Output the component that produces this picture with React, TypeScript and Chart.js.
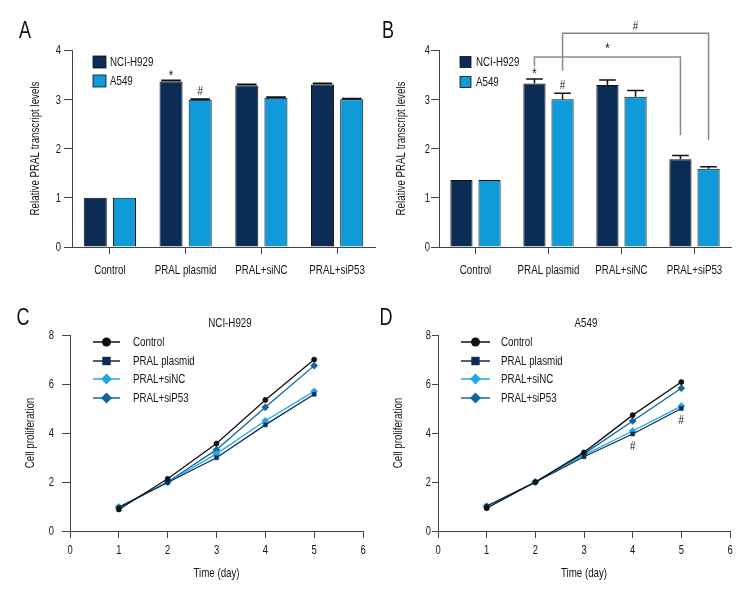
import React, { useEffect, useRef } from 'react';
import { Chart, registerables } from 'chart.js';
Chart.register(...registerables);

const FONT = '"Liberation Sans", Arial, sans-serif';
const SX = 0.75; // horizontal condensing of text

// ---------- data ----------
const categories = ['Control', 'PRAL plasmid', 'PRAL+siNC', 'PRAL+siP53'];
const barSeriesNames = ['NCI-H929', 'A549'];
const barTicks = [0, 1, 2, 3, 4];

const aNci = [1.0, 3.36, 3.28, 3.30];
const aNciErr = [0, 0.02, 0.02, 0.02];
const aA549 = [1.0, 2.99, 3.03, 3.0];
const aA549Err = [0, 0.01, 0.01, 0.01];

const bNci = [1.36, 3.32, 3.29, 1.78];
const bNciErr = [0, 0.09, 0.1, 0.08];
const bA549 = [1.36, 3.0, 3.05, 1.59];
const bA549Err = [0, 0.12, 0.13, 0.04];

// significance brackets in panel B (values in axis units)
const bBracketStar = { text: '*', fromIdx: 1, toIdx: 3, ds: 0, startVal: 3.66, topVal: 3.86, endVal: 2.27, labelVal: 4.03 };
const bBracketHash = { text: '#', fromIdx: 1, toIdx: 3, ds: 1, startVal: 3.58, topVal: 4.34, endVal: 2.17, labelVal: 4.47 };

const days = [1, 2, 3, 4, 5];
const dayTicks = [0, 1, 2, 3, 4, 5, 6];
const prolifTicks = [0, 2, 4, 6, 8];
const lineSeriesNames = ['Control', 'PRAL plasmid', 'PRAL+siNC', 'PRAL+siP53'];
const cControl = [0.88, 2.13, 3.57, 5.35, 7.0];
const cPlasmid = [0.97, 1.98, 2.99, 4.33, 5.58];
const cSiNC = [0.98, 2.0, 3.15, 4.5, 5.7];
const cSiP53 = [0.95, 2.0, 3.32, 5.05, 6.75];

const dControl = [0.93, 2.0, 3.21, 4.73, 6.08];
const dPlasmid = [1.02, 1.99, 3.03, 3.96, 5.0];
const dSiNC = [1.0, 2.0, 3.1, 4.08, 5.1];
const dSiP53 = [1.0, 2.0, 3.15, 4.49, 5.83];
const dHashDays = [4, 5];

const COLORS = {
  navy: '#0b2c55',
  light: '#0f9bda',
  siNC: '#22a7e4',
  siP53: '#14659b',
  black: '#111111',
  text: '#151515',
  axis: '#444444',
};

type Marker = 'circle' | 'rect' | 'rectRot';

function drawMarker(ctx: CanvasRenderingContext2D, style: Marker, x: number, y: number, r: number, color: string) {
  ctx.fillStyle = color;
  ctx.beginPath();
  if (style === 'circle') ctx.arc(x, y, r, 0, Math.PI * 2);
  else if (style === 'rect') ctx.rect(x - r, y - r, 2 * r, 2 * r);
  else {
    ctx.moveTo(x, y - r);
    ctx.lineTo(x + r, y);
    ctx.lineTo(x, y + r);
    ctx.lineTo(x - r, y);
    ctx.closePath();
  }
  ctx.fill();
}

function text(
  ctx: CanvasRenderingContext2D,
  s: string,
  x: number,
  y: number,
  size: number,
  align: CanvasTextAlign = 'left',
  color = COLORS.text,
  rot = 0,
) {
  ctx.save();
  ctx.translate(x, y);
  if (rot) ctx.rotate(rot);
  ctx.scale(SX, 1);
  ctx.font = `${size}px ${FONT}`;
  ctx.fillStyle = color;
  ctx.textAlign = align;
  ctx.textBaseline = 'middle';
  ctx.fillText(s, 0, 0);
  ctx.restore();
}

// ---------- bar panel ----------
interface BarCfg {
  letter: string;
  letterPos: [number, number];
  nci: number[];
  nciErr: number[];
  a549: number[];
  a549Err: number[];
  area: { left: number; right: number; top: number; bottom: number };
  yTitleX: number;
  yLabelGap: number;
  xLabelGap: number;
  capRatio: number;
  capWidth: number;
  marks: { ds: number; idx: number; text: string }[];
  brackets: typeof bBracketStar[];
  legend: { boxX: number; boxW: number; boxH: number; textX: number; rows: number[] };
}

function BarPanel({ cfg, left, top }: { cfg: BarCfg; left: number; top: number }) {
  const ref = useRef<HTMLCanvasElement>(null);
  useEffect(() => {
    const c = cfg;
    const values = [c.nci, c.a549];
    const errs = [c.nciErr, c.a549Err];
    const overlay = {
      id: 'overlay' + c.letter,
      afterDatasetsDraw(chart: any) {
        const ctx: CanvasRenderingContext2D = chart.ctx;
        const ys = chart.scales.y;
        ctx.save();
        errs.forEach((errArr, di) => {
          const meta = chart.getDatasetMeta(di);
          meta.data.forEach((el: any, j: number) => {
            const e = errArr[j];
            if (!e) return;
            const v = values[di][j];
            const p0 = ys.getPixelForValue(v);
            const p1 = ys.getPixelForValue(v + e);
            const w = el.width * c.capRatio;
            ctx.strokeStyle = '#111';
            ctx.lineWidth = c.capWidth;
            ctx.beginPath();
            ctx.moveTo(el.x, p0);
            ctx.lineTo(el.x, p1);
            ctx.moveTo(el.x - w / 2, p1);
            ctx.lineTo(el.x + w / 2, p1);
            ctx.stroke();
          });
        });
        c.marks.forEach((m) => {
          const el: any = chart.getDatasetMeta(m.ds).data[m.idx];
          const v = values[m.ds][m.idx] + errs[m.ds][m.idx];
          const p = ys.getPixelForValue(v);
          const dy = m.text === '*' ? 5 : 8;
          text(ctx, m.text, el.x, p - dy, m.text === '*' ? 15 : 13, 'center');
        });
        c.brackets.forEach((b) => {
          const meta = chart.getDatasetMeta(b.ds);
          const x1 = (meta.data[b.fromIdx] as any).x;
          const x2 = (meta.data[b.toIdx] as any).x;
          const yS = ys.getPixelForValue(b.startVal);
          const yT = ys.getPixelForValue(b.topVal);
          const yE = ys.getPixelForValue(b.endVal);
          ctx.strokeStyle = '#8a8a8a';
          ctx.lineWidth = 1.5;
          ctx.beginPath();
          ctx.moveTo(x1, yS);
          ctx.lineTo(x1, yT);
          ctx.lineTo(x2, yT);
          ctx.lineTo(x2, yE);
          ctx.stroke();
          text(ctx, b.text, (x1 + x2) / 2, ys.getPixelForValue(b.labelVal), b.text === '*' ? 15 : 13, 'center');
        });
        ctx.restore();
      },
      afterDraw(chart: any) {
        const ctx: CanvasRenderingContext2D = chart.ctx;
        const xs = chart.scales.x;
        const ys = chart.scales.y;
        const area = chart.chartArea;
        ctx.save();
        categories.forEach((cat, i) => {
          text(ctx, cat, xs.getPixelForValue(i), area.bottom + c.xLabelGap, 13, 'center');
        });
        barTicks.forEach((v) => {
          text(ctx, String(v), area.left - c.yLabelGap, ys.getPixelForValue(v) + 1, 12.5, 'right');
        });
        text(ctx, 'Relative PRAL transcript levels', c.yTitleX, (area.top + area.bottom) / 2, 13, 'center', COLORS.text, -Math.PI / 2);
        const colors = [COLORS.navy, COLORS.light];
        barSeriesNames.forEach((name, i) => {
          const yc = c.legend.rows[i];
          ctx.fillStyle = colors[i];
          ctx.fillRect(c.legend.boxX, yc - c.legend.boxH / 2, c.legend.boxW, c.legend.boxH);
          ctx.strokeStyle = '#111';
          ctx.lineWidth = 0.8;
          ctx.strokeRect(c.legend.boxX, yc - c.legend.boxH / 2, c.legend.boxW, c.legend.boxH);
          text(ctx, name, c.legend.textX, yc, 13);
        });
        text(ctx, c.letter, c.letterPos[0], c.letterPos[1], 24, 'center', '#111');
        ctx.restore();
      },
    };

    const chart = new Chart(ref.current!, {
      type: 'bar',
      data: {
        labels: categories,
        datasets: [
          { label: barSeriesNames[0], data: c.nci, backgroundColor: COLORS.navy, borderColor: '#111', borderWidth: 1 },
          { label: barSeriesNames[1], data: c.a549, backgroundColor: COLORS.light, borderColor: '#111', borderWidth: 1 },
        ],
      },
      options: {
        animation: false,
        responsive: false,
        events: [],
        datasets: { bar: { categoryPercentage: 0.77, barPercentage: 0.79 } },
        layout: { padding: { top: c.area.top, right: 378 - c.area.right, left: 0, bottom: 0 } },
        plugins: { legend: { display: false }, tooltip: { enabled: false }, title: { display: false } },
        scales: {
          x: {
            type: 'category',
            offset: true,
            afterFit: (s: any) => { s.height = 300 - c.area.bottom; },
            grid: { offset: false, drawOnChartArea: false, drawTicks: true, tickLength: 7, color: COLORS.axis },
            border: { display: true, color: COLORS.axis, width: 1 },
            ticks: { display: false, autoSkip: false },
          },
          y: {
            min: 0,
            max: 4,
            afterFit: (s: any) => { s.width = c.area.left; },
            grid: { drawOnChartArea: false, drawTicks: true, tickLength: 8, color: COLORS.axis },
            border: { display: true, color: COLORS.axis, width: 1 },
            ticks: { display: false, stepSize: 1 },
          },
        },
      },
      plugins: [overlay],
    });
    return () => chart.destroy();
  }, [cfg]);
  return (
    <div style={{ position: 'absolute', left, top, width: 378, height: 300 }}>
      <canvas ref={ref} width={378} height={300} style={{ display: 'block' }} />
    </div>
  );
}

// ---------- line panel ----------
interface LineCfg {
  letter: string;
  letterPos: [number, number];
  title: string;
  titlePos: [number, number];
  series: number[][];
  area: { left: number; right: number; top: number; bottom: number };
  yTitleX: number;
  xTitleY: number;
  yTickLen: number;
  yLabelGap: number;
  xLabelGap: number;
  legend: { x1: number; x2: number; textX: number; rows: number[] };
  hashDays: number[];
  hashSeries: number;
}

const lineStyles: { color: string; marker: Marker; r: number; lr: number }[] = [
  { color: COLORS.black, marker: 'circle', r: 2.6, lr: 4.5 },
  { color: COLORS.navy, marker: 'rect', r: 2.8, lr: 4.2 },
  { color: COLORS.siNC, marker: 'rectRot', r: 3.6, lr: 5.5 },
  { color: COLORS.siP53, marker: 'rectRot', r: 3.6, lr: 5.5 },
];

function LinePanel({ cfg, left, top }: { cfg: LineCfg; left: number; top: number }) {
  const ref = useRef<HTMLCanvasElement>(null);
  useEffect(() => {
    const c = cfg;
    const overlay = {
      id: 'overlay' + c.letter,
      afterDatasetsDraw(chart: any) {
        const ctx: CanvasRenderingContext2D = chart.ctx;
        const xs = chart.scales.x;
        const ys = chart.scales.y;
        ctx.save();
        c.hashDays.forEach((d) => {
          const i = days.indexOf(d);
          const v = c.series[c.hashSeries][i];
          text(ctx, '#', xs.getPixelForValue(d), ys.getPixelForValue(v) + 12, 13, 'center');
        });
        ctx.restore();
      },
      afterDraw(chart: any) {
        const ctx: CanvasRenderingContext2D = chart.ctx;
        const xs = chart.scales.x;
        const ys = chart.scales.y;
        const area = chart.chartArea;
        ctx.save();
        dayTicks.forEach((v) => {
          text(ctx, String(v), xs.getPixelForValue(v), area.bottom + c.xLabelGap, 12.5, 'center');
        });
        prolifTicks.forEach((v) => {
          text(ctx, String(v), area.left - c.yLabelGap, ys.getPixelForValue(v) + 1, 12.5, 'right');
        });
        text(ctx, 'Cell proliferation', c.yTitleX, (area.top + area.bottom) / 2, 13, 'center', COLORS.text, -Math.PI / 2);
        text(ctx, 'Time (day)', (area.left + area.right) / 2, c.xTitleY, 13, 'center');
        lineSeriesNames.forEach((name, i) => {
          const st = lineStyles[i];
          const yc = c.legend.rows[i];
          ctx.strokeStyle = st.color;
          ctx.lineWidth = 1.5;
          ctx.beginPath();
          ctx.moveTo(c.legend.x1, yc);
          ctx.lineTo(c.legend.x2, yc);
          ctx.stroke();
          drawMarker(ctx, st.marker, (c.legend.x1 + c.legend.x2) / 2, yc, st.lr, st.color);
          text(ctx, name, c.legend.textX, yc, 13);
        });
        text(ctx, c.title, c.titlePos[0], c.titlePos[1], 13, 'center');
        text(ctx, c.letter, c.letterPos[0], c.letterPos[1], 24, 'center', '#111');
        ctx.restore();
      },
    };

    const chart = new Chart(ref.current!, {
      type: 'line',
      data: {
        datasets: lineSeriesNames.map((name, i) => ({
          label: name,
          data: days.map((d, j) => ({ x: d, y: c.series[i][j] })),
          borderColor: lineStyles[i].color,
          backgroundColor: lineStyles[i].color,
          borderWidth: 1.3,
          pointStyle: lineStyles[i].marker,
          pointRadius: lineStyles[i].r,
          pointBorderWidth: 0.5,
          pointBackgroundColor: lineStyles[i].color,
          pointBorderColor: lineStyles[i].color,
          tension: 0,
          fill: false,
        })),
      },
      options: {
        animation: false,
        responsive: false,
        events: [],
        layout: { padding: { top: c.area.top, right: 378 - c.area.right, left: 0, bottom: 0 } },
        plugins: { legend: { display: false }, tooltip: { enabled: false }, title: { display: false } },
        scales: {
          x: {
            type: 'linear',
            min: 0,
            max: 6,
            afterFit: (s: any) => { s.height = 300 - c.area.bottom; },
            grid: { drawOnChartArea: false, drawTicks: true, tickLength: 7, color: COLORS.axis },
            border: { display: true, color: COLORS.axis, width: 1 },
            ticks: { display: false, stepSize: 1 },
          },
          y: {
            min: 0,
            max: 8,
            afterFit: (s: any) => { s.width = c.area.left; },
            grid: { drawOnChartArea: false, drawTicks: true, tickLength: c.yTickLen, color: COLORS.axis },
            border: { display: true, color: COLORS.axis, width: 1 },
            ticks: { display: false, stepSize: 2 },
          },
        },
      },
      plugins: [overlay],
    });
    return () => chart.destroy();
  }, [cfg]);
  return (
    <div style={{ position: 'absolute', left, top, width: 378, height: 300 }}>
      <canvas ref={ref} width={378} height={300} style={{ display: 'block' }} />
    </div>
  );
}

const cfgA: BarCfg = {
  letter: 'A',
  letterPos: [25, 31],
  nci: aNci,
  nciErr: aNciErr,
  a549: aA549,
  a549Err: aA549Err,
  area: { left: 72, right: 375, top: 50, bottom: 247 },
  yTitleX: 35,
  yLabelGap: 11,
  xLabelGap: 23,
  capRatio: 0.85,
  capWidth: 2,
  marks: [
    { ds: 0, idx: 1, text: '*' },
    { ds: 1, idx: 1, text: '#' },
  ],
  brackets: [],
  legend: { boxX: 93, boxW: 13, boxH: 12, textX: 110, rows: [62, 81] },
};

const cfgB: BarCfg = {
  letter: 'B',
  letterPos: [10, 31],
  nci: bNci,
  nciErr: bNciErr,
  a549: bA549,
  a549Err: bA549Err,
  area: { left: 61, right: 353, top: 50, bottom: 247 },
  yTitleX: 23,
  yLabelGap: 9,
  xLabelGap: 23,
  capRatio: 0.75,
  capWidth: 1.5,
  marks: [
    { ds: 0, idx: 1, text: '*' },
    { ds: 1, idx: 1, text: '#' },
  ],
  brackets: [bBracketStar, bBracketHash],
  legend: { boxX: 82, boxW: 11, boxH: 11, textX: 98, rows: [62, 82] },
};

const cfgC: LineCfg = {
  letter: 'C',
  letterPos: [23, 18],
  title: 'NCI-H929',
  titlePos: [230, 23],
  series: [cControl, cPlasmid, cSiNC, cSiP53],
  area: { left: 70, right: 363, top: 35, bottom: 231 },
  yTitleX: 30,
  xTitleY: 273,
  yTickLen: 8,
  yLabelGap: 16,
  xLabelGap: 20,
  legend: { x1: 93, x2: 120, textX: 133, rows: [42, 61, 79, 98] },
  hashDays: [],
  hashSeries: 1,
};

const cfgD: LineCfg = {
  letter: 'D',
  letterPos: [8, 18],
  title: 'A549',
  titlePos: [208, 23],
  series: [dControl, dPlasmid, dSiNC, dSiP53],
  area: { left: 60, right: 352, top: 35, bottom: 231 },
  yTitleX: 20,
  xTitleY: 273,
  yTickLen: 6,
  yLabelGap: 7,
  xLabelGap: 20,
  legend: { x1: 83, x2: 112, textX: 123, rows: [42, 61, 79, 98] },
  hashDays: dHashDays,
  hashSeries: 1,
};

export default function App() {
  return (
    <div style={{ position: 'absolute', left: 0, top: 0, width: 756, height: 600, background: '#fff' }}>
      <BarPanel cfg={cfgA} left={0} top={0} />
      <BarPanel cfg={cfgB} left={378} top={0} />
      <LinePanel cfg={cfgC} left={0} top={300} />
      <LinePanel cfg={cfgD} left={378} top={300} />
    </div>
  );
}
